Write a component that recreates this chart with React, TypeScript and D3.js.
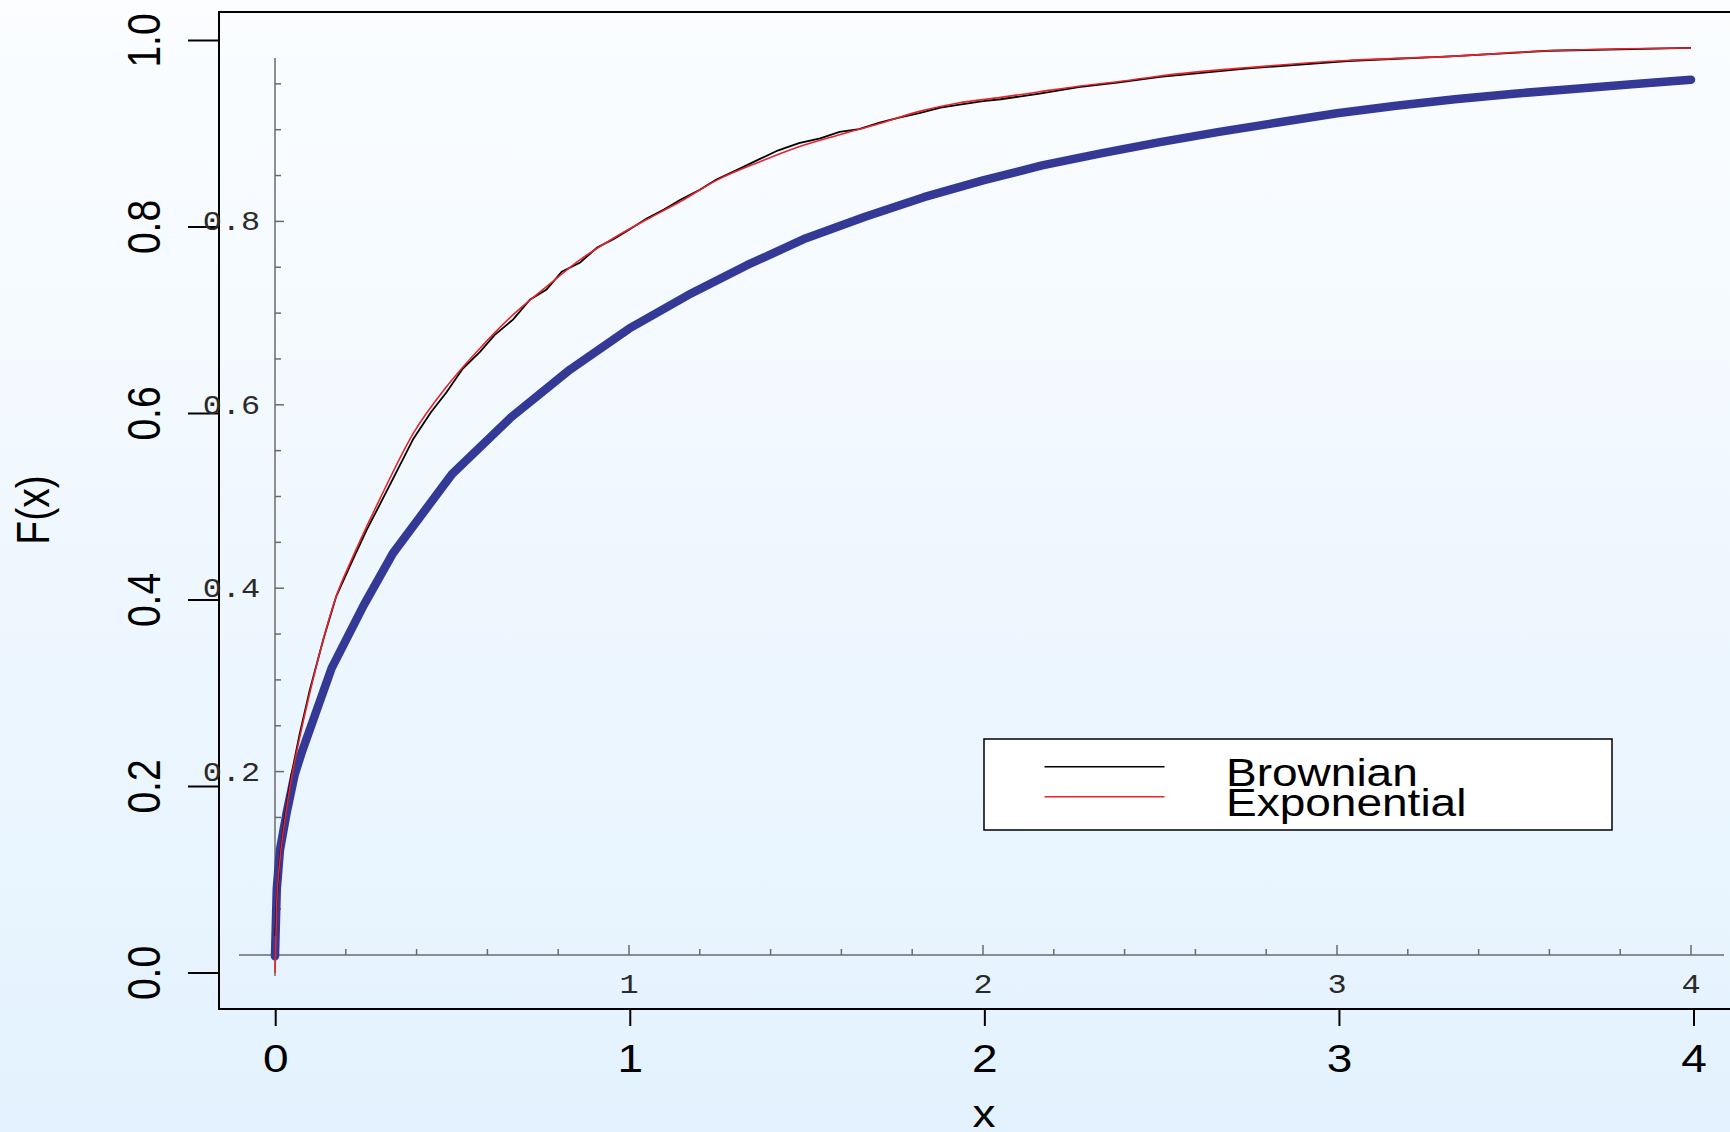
import * as d3 from "d3";

// tick values
const outerXTicks = [0, 1, 2, 3, 4];
const outerYTicks = [0, 0.2, 0.4, 0.6, 0.8, 1.0];
const innerXLabels = [1, 2, 3, 4];
const innerYLabels = [0.2, 0.4, 0.6, 0.8];

// Exponential (red)
const expX = [0, 0.005, 0.014, 0.028, 0.047, 0.07, 0.098, 0.136, 0.173, 0.216, 0.297, 0.391, 0.485, 0.579, 0.673, 0.767, 0.862, 0.956, 1.05, 1.144, 1.247, 1.37, 1.48, 1.595, 1.708, 1.82, 1.93, 2.05, 2.16, 2.27, 2.385, 2.5, 2.75, 3.03, 3.32, 3.6, 4.0];
const expY = [0, 0.075, 0.121, 0.164, 0.21, 0.253, 0.3, 0.357, 0.404, 0.443, 0.509, 0.579, 0.629, 0.67, 0.706, 0.736, 0.765, 0.788, 0.808, 0.827, 0.85, 0.87, 0.886, 0.899, 0.911, 0.924, 0.933, 0.939, 0.945, 0.951, 0.956, 0.962, 0.971, 0.9785, 0.983, 0.989, 0.992];

// Brownian (black)
const brownX = [0.001, 0.005, 0.014, 0.028, 0.047, 0.07, 0.098, 0.136, 0.173, 0.216, 0.26, 0.297, 0.34, 0.391, 0.44, 0.485, 0.53, 0.579, 0.62, 0.673, 0.72, 0.767, 0.81, 0.862, 0.91, 0.956, 1.0, 1.05, 1.1, 1.144, 1.2, 1.247, 1.31, 1.37, 1.42, 1.48, 1.54, 1.595, 1.65, 1.708, 1.76, 1.82, 1.88, 1.93, 2.0, 2.05, 2.16, 2.27, 2.385, 2.5, 2.75, 3.03, 3.32, 3.6, 4.0];
const brownY = [0.04, 0.078, 0.124, 0.168, 0.214, 0.257, 0.303, 0.357, 0.404, 0.44, 0.476, 0.503, 0.535, 0.573, 0.601, 0.623, 0.648, 0.666, 0.684, 0.701, 0.722, 0.733, 0.752, 0.762, 0.778, 0.787, 0.797, 0.809, 0.819, 0.829, 0.84, 0.851, 0.862, 0.873, 0.882, 0.89, 0.895, 0.902, 0.905, 0.912, 0.917, 0.922, 0.928, 0.931, 0.935, 0.937, 0.943, 0.95, 0.955, 0.961, 0.97, 0.978, 0.983, 0.989, 0.992];

// thick blue curve
const limitX = [0, 0.005, 0.014, 0.033, 0.055, 0.075, 0.16, 0.25, 0.333, 0.5, 0.667, 0.833, 1.0, 1.167, 1.333, 1.5, 1.667, 1.833, 2.0, 2.167, 2.333, 2.5, 2.667, 2.833, 3.0, 3.167, 3.333, 3.5, 3.667, 3.833, 4.0];
const limitY = [0.018, 0.09, 0.132, 0.172, 0.212, 0.236, 0.327, 0.394, 0.45, 0.535, 0.596, 0.647, 0.691, 0.727, 0.759, 0.788, 0.811, 0.832, 0.85, 0.866, 0.879, 0.891, 0.902, 0.912, 0.922, 0.93, 0.937, 0.943, 0.948, 0.953, 0.958];

const legendNames = ["Brownian", "Exponential"];
const legendColors = ["#000000", "#e8232b"];

const SX = 1.18; // text is stretched sideways in the original

function App() {
  const width = 1730;
  const height = 1132;

  const x = d3.scaleLinear().domain([0, 4]).range([275, 1691]);
  const y = d3.scaleLinear().domain([0, 1]).range([973, 40.5]);
  const xOuter = d3.scaleLinear().domain([0, 4]).range([275.7, 1694]);
  const xInner = d3.scaleLinear().domain([0, 4]).range([275, 1691]);
  const yInner = d3.scaleLinear().domain([0, 1]).range([955, 38]);

  const line = d3
    .line<number[]>()
    .x((d) => x(d[0]))
    .y((d) => y(d[1]));
  const smoothLine = d3
    .line<number[]>()
    .x((d) => x(d[0]))
    .y((d) => y(d[1]))
    .curve(d3.curveMonotoneX);

  const zip = (xs: number[], ys: number[]) => xs.map((v, i) => [v, ys[i]]);

  const boxLeft = 219;
  const boxTop = 12;
  const boxBottom = 1009;

  const innerXMinor = d3.range(1, 21).map((i) => i * 0.2);
  const innerYMinor = d3.range(1, 20).map((i) => i * 0.05);

  const font = "'Liberation Sans', Arial, Helvetica, sans-serif";
  const mono = "'Liberation Mono', 'Courier New', monospace";

  return (
    <svg
      width={width}
      height={height}
      style={{ position: "absolute", left: 0, top: 0 }}
    >
      <defs>
        <linearGradient id="bg" x1="0" y1="0" x2="0" y2="1">
          <stop offset="0" stopColor="#fbfdff" />
          <stop offset="1" stopColor="#e3f2fe" />
        </linearGradient>
      </defs>
      <rect x={0} y={0} width={width} height={height} fill="url(#bg)" />

      {/* outer frame */}
      <path
        d={`M${width},${boxTop}H${boxLeft}V${boxBottom}H${width}`}
        fill="none"
        stroke="#000"
        strokeWidth={2}
      />

      {/* outer y axis */}
      {outerYTicks.map((t, i) => (
        <g key={i}>
          <line x1={188} x2={boxLeft} y1={y(t)} y2={y(t)} stroke="#000" strokeWidth={2} />
          <text
            transform={`translate(160,${y(t)}) scale(${SX},1) rotate(-90)`}
            textAnchor="middle"
            fontFamily={font}
            fontSize={39}
          >
            {t.toFixed(1)}
          </text>
        </g>
      ))}
      <text
        transform={`translate(49,510) scale(${SX},1) rotate(-90)`}
        textAnchor="middle"
        fontFamily={font}
        fontSize={39}
      >
        F(x)
      </text>

      {/* outer x axis */}
      {outerXTicks.map((t, i) => (
        <g key={i}>
          <line x1={xOuter(t)} x2={xOuter(t)} y1={boxBottom} y2={1026} stroke="#000" strokeWidth={2} />
          <text
            transform={`translate(${xOuter(t)},1072) scale(${SX},1)`}
            textAnchor="middle"
            fontFamily={font}
            fontSize={39}
          >
            {t}
          </text>
        </g>
      ))}
      <text
        transform={`translate(984,1127) scale(${SX},1)`}
        textAnchor="middle"
        fontFamily={font}
        fontSize={39}
      >
        x
      </text>

      {/* inner axes */}
      <g stroke="#6b6b6b" strokeWidth={1.5}>
        <line x1={xInner(0)} x2={xInner(0)} y1={58} y2={976} />
        <line x1={239} x2={1724} y1={yInner(0)} y2={yInner(0)} />
        {innerYMinor.map((t, i) => {
          const major = innerYLabels.some((l) => Math.abs(l - t) < 1e-6);
          return (
            <line
              key={i}
              x1={xInner(0)}
              x2={xInner(0) + (major ? 9 : 6)}
              y1={yInner(t)}
              y2={yInner(t)}
            />
          );
        })}
        {innerXMinor.map((t, i) => {
          const major = Math.abs(t - Math.round(t)) < 1e-6;
          return (
            <line
              key={i}
              x1={xInner(t)}
              x2={xInner(t)}
              y1={yInner(0)}
              y2={yInner(0) - (major ? 10 : 6)}
            />
          );
        })}
      </g>
      {innerYLabels.map((t, i) => (
        <text
          key={i}
          transform={`translate(260,${yInner(t) + 9}) scale(${SX},1)`}
          textAnchor="end"
          fontFamily={mono}
          fontSize={27}
          fill="#2a2a2a"
        >
          {t.toFixed(1)}
        </text>
      ))}
      {innerXLabels.map((t, i) => (
        <text
          key={i}
          transform={`translate(${xInner(t)},993) scale(${SX},1)`}
          textAnchor="middle"
          fontFamily={mono}
          fontSize={27}
          fill="#2a2a2a"
        >
          {t}
        </text>
      ))}

      {/* curves */}
      <path
        d={line(zip(limitX, limitY)) || ""}
        fill="none"
        stroke="#353996"
        strokeWidth={8.5}
        strokeLinejoin="round"
        strokeLinecap="round"
      />
      <path
        d={line(zip(brownX, brownY)) || ""}
        fill="none"
        stroke={legendColors[0]}
        strokeWidth={1.8}
      />
      <path
        d={smoothLine(zip(expX, expY)) || ""}
        fill="none"
        stroke={legendColors[1]}
        strokeWidth={1.6}
      />

      {/* legend */}
      <rect x={984} y={739} width={628} height={91} fill="#fff" stroke="#000" strokeWidth={1.5} />
      {legendNames.map((name, i) => (
        <g key={name}>
          <line
            x1={1044.5}
            x2={1164.5}
            y1={766.7 + i * 30}
            y2={766.7 + i * 30}
            stroke={legendColors[i]}
            strokeWidth={1.6}
          />
          <text
            transform={`translate(1226,${785.7 + i * 30.3}) scale(${SX},1)`}
            fontFamily={font}
            fontSize={39}
          >
            {name}
          </text>
        </g>
      ))}
    </svg>
  );
}

export default App;
